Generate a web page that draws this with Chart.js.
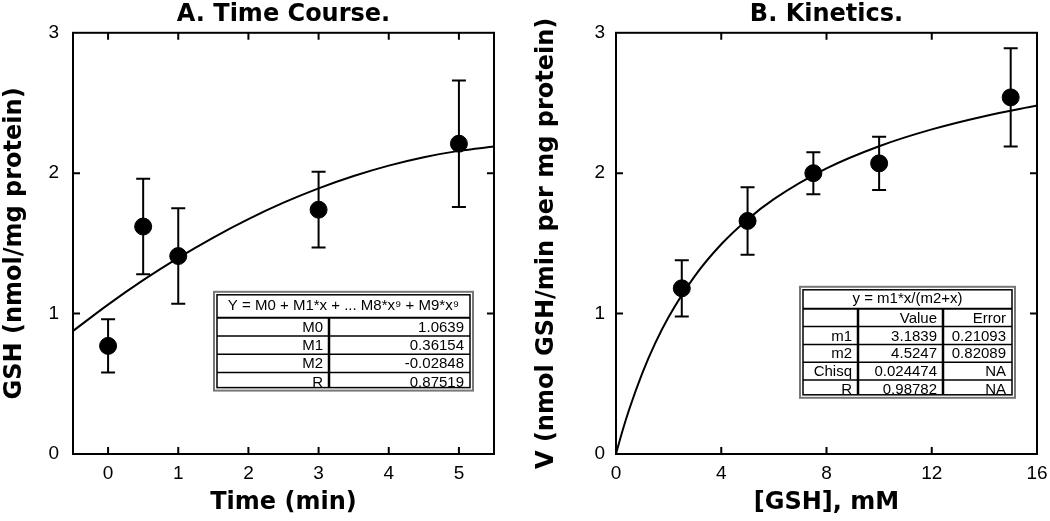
<!DOCTYPE html>
<html lang="en">
<head>
    <meta charset="UTF-8">
    <title>GSH Time Course and Kinetics</title>
    <style>
        body {
            margin: 0;
            background-color: #fff;
        }

        #wrap {
            width: 1050px;
            height: 521px;
            display: flex;
        }

        .panel {
            width: 525px;
            height: 521px;
        }
    </style>
</head>
<body>
    <div id="wrap">
        <div class="panel"><canvas id="chart-a" width="525" height="521"></canvas></div>
        <div class="panel"><canvas id="chart-b" width="525" height="521"></canvas></div>
    </div>

    <script src="https://cdn.jsdelivr.net/npm/chart.js"></script>

    <script>
        // Panel A: time course
        const timeMin = [0, 0.5, 1, 3, 5];
        const gshLevel = [0.77, 1.62, 1.41, 1.74, 2.21];
        const gshError = [0.19, 0.34, 0.34, 0.27, 0.45];
        const timeTicks = [0, 1, 2, 3, 4, 5];

        // polynomial fit line
        const fitTimeX = [-0.5, 0, 0.5, 1, 1.5, 2, 2.5, 3, 3.5, 4, 4.5, 5, 5.5];
        const fitTimeY = [0.876, 1.064, 1.238, 1.397, 1.542, 1.673, 1.790, 1.892, 1.980, 2.054, 2.114, 2.159, 2.190];

        const tableAHeader = 'Y = M0 + M1*x + ... M8*x\u2079 + M9*x\u2079';
        const tableALabels = ['M0', 'M1', 'M2', 'R'];
        const tableAValues = ['1.0639', '0.36154', '-0.02848', '0.87519'];

        // Panel B: kinetics
        const gshConc = [2.5, 5, 7.5, 10, 15];
        const rateV = [1.18, 1.66, 2.0, 2.07, 2.54];
        const rateError = [0.2, 0.24, 0.15, 0.19, 0.35];
        const concTicks = [0, 4, 8, 12, 16];

        // hyperbolic fit line
        const fitConcX = [0, 0.25, 0.5, 1, 1.5, 2, 3, 4, 5, 6, 8, 10, 12, 14, 16];
        const fitConcY = [0, 0.167, 0.317, 0.576, 0.793, 0.976, 1.269, 1.494, 1.671, 1.815, 2.034, 2.192, 2.312, 2.406, 2.482];

        const tableBHeader = 'y = m1*x/(m2+x)';
        const tableBCols = ['', 'Value', 'Error'];
        const tableBLabels = ['m1', 'm2', 'Chisq', 'R'];
        const tableBValues = ['3.1839', '4.5247', '0.024474', '0.98782'];
        const tableBErrors = ['0.21093', '0.82089', 'NA', 'NA'];

        const yTicks = [0, 1, 2, 3];

        const tickFont = { family: '"Liberation Sans", Arial, sans-serif', size: 19 };
        const boldFont = { family: '"DejaVu Sans", sans-serif', size: 24, weight: 'bold', lineHeight: 1.2 };
        const tableFont = '15px "Liberation Sans", Arial, sans-serif';

        function toPoints(xs, ys) {
            return xs.map((x, i) => ({ x: x, y: ys[i] }));
        }

        // frame, inward ticks on all four sides and error bars
        const framePlugin = {
            id: 'frame',
            afterDatasetsDraw(chart, args, opts) {
                const ctx = chart.ctx;
                const a = chart.chartArea;
                const xs = chart.scales.x;
                const ys = chart.scales.y;
                ctx.save();
                ctx.strokeStyle = '#000';
                ctx.lineWidth = 2;

                // error bars
                const xv = opts.xValues, yv = opts.yValues, ev = opts.errors;
                xv.forEach((x, i) => {
                    const px = xs.getPixelForValue(x);
                    const top = ys.getPixelForValue(yv[i] + ev[i]);
                    const bot = ys.getPixelForValue(yv[i] - ev[i]);
                    ctx.beginPath();
                    ctx.moveTo(px, top);
                    ctx.lineTo(px, bot);
                    ctx.moveTo(px - 7, top);
                    ctx.lineTo(px + 7, top);
                    ctx.moveTo(px - 7, bot);
                    ctx.lineTo(px + 7, bot);
                    ctx.stroke();
                });

                ctx.strokeRect(a.left, a.top, a.right - a.left, a.bottom - a.top);

                const len = 7;
                ctx.beginPath();
                xs.ticks.forEach(t => {
                    const px = xs.getPixelForValue(t.value);
                    if (px <= a.left + 1 || px >= a.right - 1) return;
                    ctx.moveTo(px, a.bottom);
                    ctx.lineTo(px, a.bottom - len);
                    ctx.moveTo(px, a.top);
                    ctx.lineTo(px, a.top + len);
                });
                ys.ticks.forEach(t => {
                    const py = ys.getPixelForValue(t.value);
                    if (py <= a.top + 1 || py >= a.bottom - 1) return;
                    ctx.moveTo(a.left, py);
                    ctx.lineTo(a.left + len, py);
                    ctx.moveTo(a.right, py);
                    ctx.lineTo(a.right - len, py);
                });
                ctx.stroke();
                ctx.restore();
            }
        };

        // fit parameter table drawn inside the plot
        const tablePlugin = {
            id: 'fitTable',
            afterDraw(chart, args, opts) {
                const ctx = chart.ctx;
                const a = chart.chartArea;
                const x0 = a.left + opts.left;
                const y0 = a.top + opts.top;
                const w = opts.width;
                const rows = opts.rows;
                const h = opts.headerHeight + rows.length * opts.rowHeight;
                ctx.save();
                ctx.fillStyle = '#fff';
                ctx.fillRect(x0, y0, w, h);
                ctx.strokeStyle = '#777';
                ctx.lineWidth = 2;
                ctx.strokeRect(x0, y0, w, h);
                ctx.strokeStyle = '#000';
                ctx.lineWidth = 1.5;
                ctx.strokeRect(x0 + 3, y0 + 3, w - 6, h - 6);

                ctx.font = tableFont;
                ctx.fillStyle = '#000';
                ctx.textBaseline = 'middle';
                ctx.textAlign = 'center';
                ctx.fillText(opts.header, x0 + w / 2, y0 + 3 + (opts.headerHeight - 3) / 2);

                const cols = opts.cols;
                rows.forEach((row, r) => {
                    const ry = y0 + opts.headerHeight + r * opts.rowHeight;
                    ctx.lineWidth = r === 0 ? 2 : 1.5;
                    ctx.beginPath();
                    ctx.moveTo(x0 + 3, ry);
                    ctx.lineTo(x0 + w - 3, ry);
                    ctx.stroke();
                    ctx.textAlign = 'right';
                    row.forEach((cell, c) => {
                        const right = c < cols.length ? x0 + cols[c] : x0 + w - 3;
                        ctx.fillText(cell, right - 6, ry + opts.rowHeight / 2 + 1);
                    });
                });
                ctx.lineWidth = 2.5;
                ctx.beginPath();
                cols.forEach(cx => {
                    ctx.moveTo(x0 + cx, y0 + opts.headerHeight);
                    ctx.lineTo(x0 + cx, y0 + h - 3);
                });
                ctx.stroke();
                ctx.restore();
            }
        };

        function makeChart(id, cfg) {
            const ctx = document.getElementById(id).getContext('2d');
            return new Chart(ctx, {
                type: 'scatter',
                data: {
                    datasets: [{
                        data: toPoints(cfg.xs, cfg.ys),
                        backgroundColor: '#000',
                        borderColor: '#000',
                        pointRadius: 8.5,
                        pointHoverRadius: 8.5,
                        order: 1
                    }, {
                        type: 'line',
                        data: toPoints(cfg.fitX, cfg.fitY),
                        borderColor: '#000',
                        borderWidth: 2,
                        pointRadius: 0,
                        fill: false,
                        cubicInterpolationMode: 'monotone',
                        order: 2
                    }]
                },
                options: {
                    responsive: false,
                    animation: false,
                    events: [],
                    layout: { padding: { left: 0, right: cfg.padRight, top: 0, bottom: 0 } },
                    plugins: {
                        legend: { display: false },
                        tooltip: { enabled: false },
                        title: {
                            display: true,
                            text: cfg.title,
                            color: '#000',
                            font: boldFont,
                            fullSize: false,
                            padding: { top: 0, bottom: 4 }
                        },
                        frame: { xValues: cfg.xs, yValues: cfg.ys, errors: cfg.errs },
                        fitTable: cfg.table
                    },
                    scales: {
                        x: {
                            type: 'linear',
                            min: cfg.xMin,
                            max: cfg.xMax,
                            grid: { display: false, drawTicks: false },
                            border: { display: false },
                            ticks: { color: '#000', font: tickFont, padding: 8 },
                            title: { display: true, text: cfg.xTitle, color: '#000', font: boldFont, padding: { top: 0, bottom: 4 } },
                            afterBuildTicks(s) { s.ticks = cfg.xTicks.map(v => ({ value: v })); },
                            afterFit(s) { s.height = 67; s.paddingLeft = 0; s.paddingRight = 0; }
                        },
                        y: {
                            type: 'linear',
                            min: 0,
                            max: 3,
                            grid: { display: false, drawTicks: false },
                            border: { display: false },
                            ticks: { color: '#000', font: tickFont, padding: cfg.yPad },
                            title: { display: true, text: cfg.yTitle, color: '#000', font: boldFont, padding: { top: cfg.yTitlePad, bottom: 0 } },
                            afterBuildTicks(s) { s.ticks = yTicks.map(v => ({ value: v })); },
                            afterFit(s) { s.width = cfg.yWidth; s.paddingTop = 0; s.paddingBottom = 0; }
                        }
                    }
                },
                plugins: [framePlugin, tablePlugin]
            });
        }

        makeChart('chart-a', {
            xs: timeMin, ys: gshLevel, errs: gshError,
            fitX: fitTimeX, fitY: fitTimeY,
            xTicks: timeTicks,
            title: 'A. Time Course.',
            xTitle: 'Time (min)',
            yTitle: 'GSH (nmol/mg protein)',
            xMin: -0.5, xMax: 5.5,
            yWidth: 73, yPad: 14, yTitlePad: 0, padRight: 31,
            table: {
                left: 141, top: 259, width: 259,
                headerHeight: 26, rowHeight: 18.2,
                header: tableAHeader,
                cols: [115],
                rows: tableALabels.map((l, i) => [l, tableAValues[i]])
            }
        });

        makeChart('chart-b', {
            xs: gshConc, ys: rateV, errs: rateError,
            fitX: fitConcX, fitY: fitConcY,
            xTicks: concTicks,
            title: 'B. Kinetics.',
            xTitle: '[GSH], mM',
            yTitle: 'V (nmol GSH/min per mg protein)',
            xMin: 0, xMax: 16,
            yWidth: 91, yPad: 11, yTitlePad: 7, padRight: 13,
            table: {
                left: 184, top: 254, width: 215,
                headerHeight: 22, rowHeight: 17.8,
                header: tableBHeader,
                cols: [58, 143],
                rows: [tableBCols].concat(tableBLabels.map((l, i) => [l, tableBValues[i], tableBErrors[i]]))
            }
        });
    </script>
</body>
</html>
